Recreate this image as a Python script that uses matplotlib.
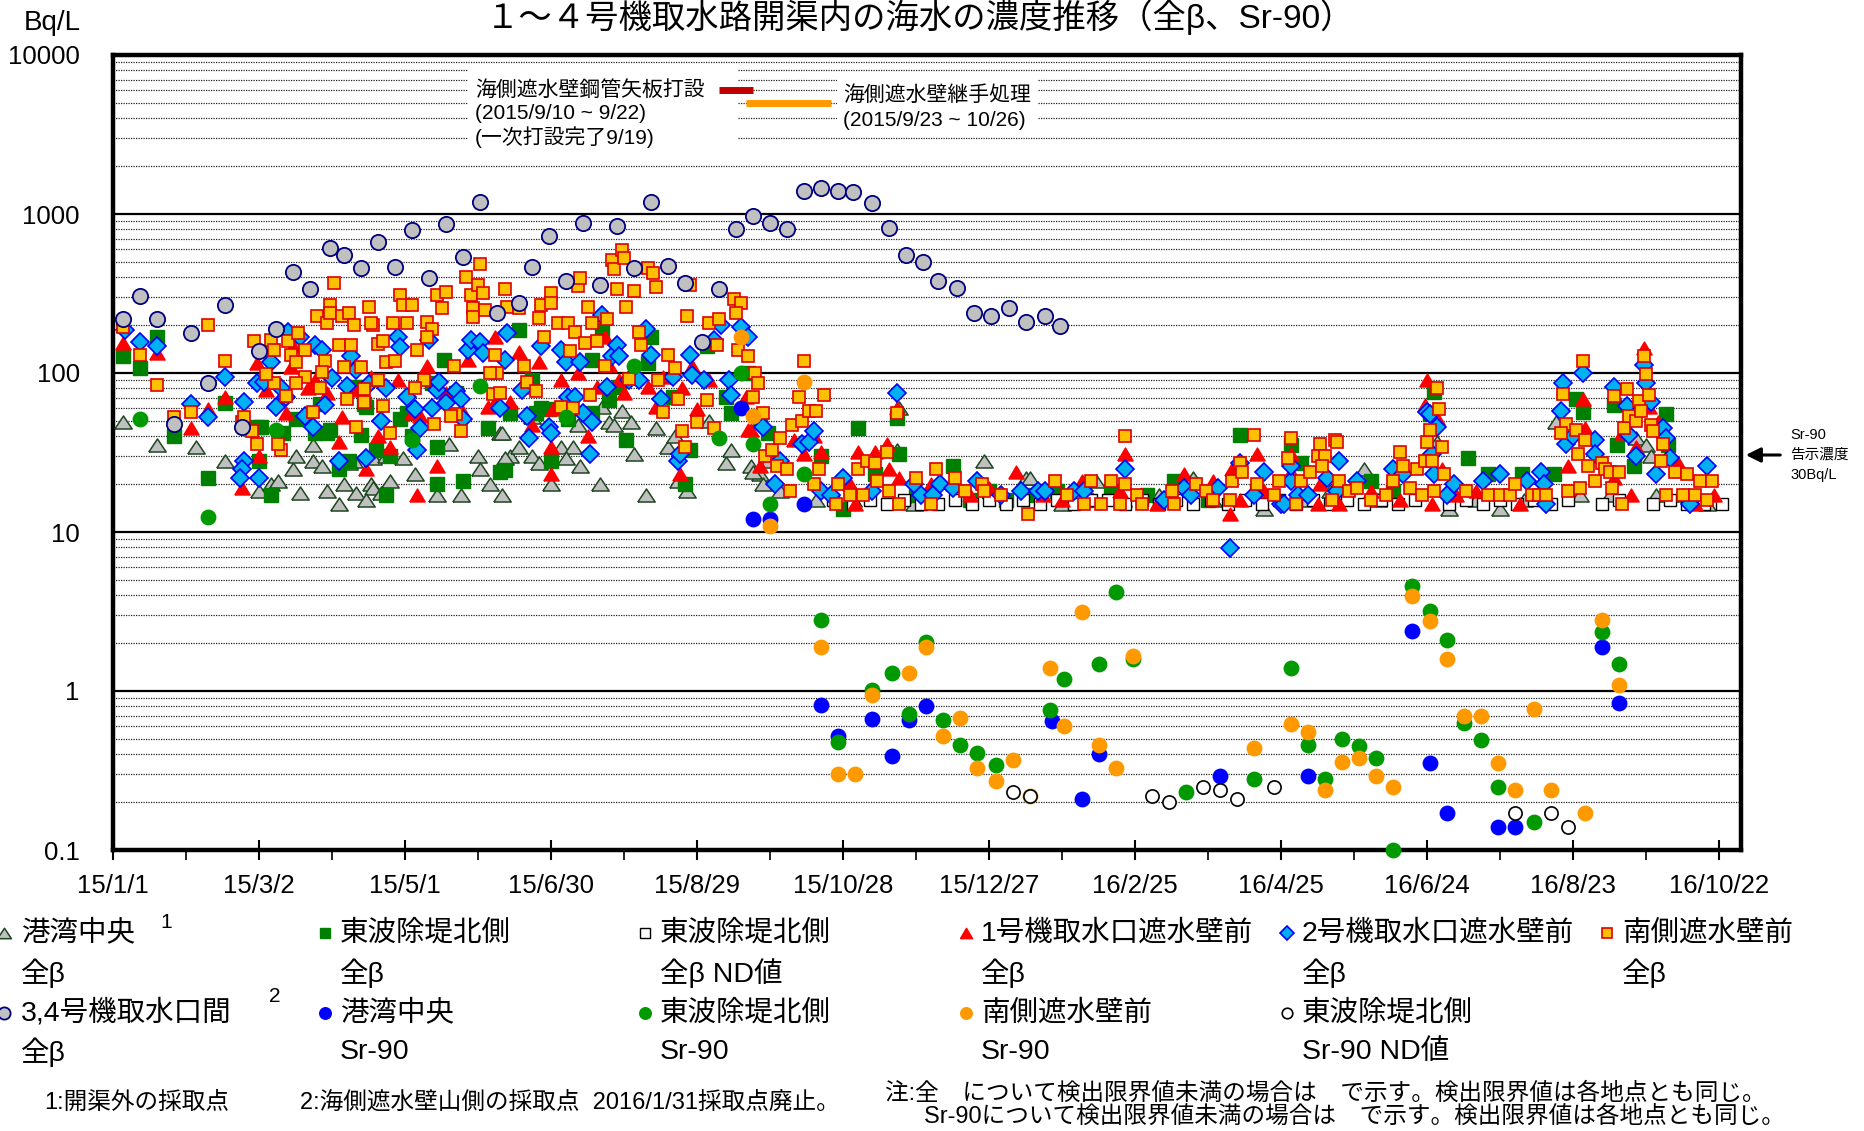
import numpy as np
import matplotlib
matplotlib.use('Agg')
import matplotlib.pyplot as plt
from matplotlib.patches import Rectangle
from matplotlib.ticker import FixedLocator, NullFormatter, LogLocator

plt.rcParams['font.family'] = ['Liberation Sans', 'Noto Sans CJK JP']

# values are (days since 2015/1/1, Bq/L)
kowan_beta = [(4, 49), (18, 35), (34, 34), (46, 28), (60, 18), (65, 20), (68, 21), (74, 25), (75, 30), (82, 28),
              (88, 18), (93, 15), (95, 20), (99, 28), (106, 20), (114, 21), (124, 23), (133, 17), (143, 17), (150, 30),
              (151, 25), (155, 20), (159, 42), (160, 17), (163, 30), (167, 34), (172, 30), (175, 27), (180, 20), (184, 34),
              (189, 34), (192, 26), (200, 20), (204, 49), (209, 58), (213, 49), (214, 31), (219, 17), (223, 45), (228, 34),
              (231, 40), (236, 18), (245, 50), (252, 27), (254, 33), (262, 26), (266, 23), (267, 20), (274, 18), (289, 16),
              (82, 35), (86, 26), (100, 17.5), (107, 19), (110, 17.5), (138, 36), (77, 17.5), (97, 27), (119, 29), (107, 29),
              (112, 30), (104, 16), (161, 29), (186, 29), (206, 47), (232, 21), (263, 24), (269, 28), (160, 42), (172, 53),
              (191, 47), (201, 61),
              (304, 16), (322, 33), (323, 60), (329, 15), (358, 28), (375, 22), (377, 22), (390, 15), (404, 21), (415, 16),
              (430, 17), (444, 22), (452, 16), (473, 14), (490, 16), (500, 18), (514, 25), (520, 16), (544, 37), (549, 14),
              (560, 16), (570, 14), (580, 16), (593, 49), (603, 17), (615, 17), (626, 39), (630, 35), (632, 30), (634, 17),
              (645, 17), (655, 15)]

higashi_beta = [(4, 127), (11, 107), (18, 169), (25, 40), (39, 22), (46, 65), (59, 46), (61, 46), (65, 17), (70, 42),
                (75, 51), (83, 42), (88, 42), (93, 25), (97, 28), (100, 82), (104, 61), (112, 17), (114, 30), (118, 51),
                (121, 56), (123, 40), (131, 86), (136, 121), (133, 20), (141, 75), (144, 21), (147, 147), (154, 45), (159, 24),
                (167, 186), (172, 90), (174, 56), (179, 59), (180, 28), (187, 51), (197, 56), (197, 121), (201, 186), (208, 82),
                (211, 38), (220, 115), (221, 169), (230, 71), (235, 20), (237, 33), (244, 147), (252, 71), (254, 56), (261, 100),
                (60, 28), (89, 44), (102, 41), (108, 33), (133, 34), (85, 64), (103, 64), (161, 24.5), (163, 56), (204, 68),
                (176, 60),
                (266, 51), (269, 42), (291, 30), (300, 14), (306, 45), (313, 23), (322, 52), (323, 31), (330, 17), (345, 26),
                (352, 16), (360, 18), (367, 16), (375, 17), (388, 18), (400, 16), (410, 18), (425, 17), (436, 21), (450, 16),
                (463, 41), (470, 18), (484, 35), (488, 27), (517, 21), (526, 18), (541, 55), (543, 76), (557, 29), (565, 23),
                (579, 23), (592, 23), (601, 69), (604, 57), (617, 63), (618, 35), (625, 26), (638, 55), (639, 35)]

higashi_beta_nd = [(296, 16), (304, 15), (311, 16), (318, 15), (325, 16), (332, 15), (339, 15), (346, 16), (353, 15),
                   (360, 16), (367, 15), (374, 16), (381, 15), (388, 16), (395, 15), (402, 16), (409, 16), (416, 15),
                   (423, 16), (430, 15), (437, 16), (444, 15), (451, 16), (458, 15), (465, 16), (472, 15), (479, 16),
                   (486, 15), (493, 16), (500, 15), (507, 16), (514, 15), (521, 16), (528, 15), (535, 16), (549, 15),
                   (556, 16), (563, 15), (570, 16), (577, 15), (584, 16), (591, 15), (598, 16), (612, 15), (619, 16),
                   (633, 15), (640, 16), (647, 15), (654, 15), (661, 15)]

unit1_beta = [(4, 154), (18, 134), (32, 45), (39, 59), (46, 71), (53, 19), (60, 30), (59, 116), (63, 78), (65, 90),
              (71, 56), (73, 109), (74, 147), (80, 80), (83, 90), (88, 75), (94, 53), (93, 37), (99, 78), (104, 25),
              (106, 95), (109, 40), (114, 34), (117, 90), (123, 56), (125, 17), (126, 54), (129, 110), (133, 26), (137, 75),
              (143, 59), (146, 121), (157, 169), (154, 61), (157, 66), (163, 66), (167, 136), (169, 82), (172, 47), (175, 118),
              (180, 23), (180, 34), (181, 59), (184, 90), (191, 100), (195, 40), (199, 82), (202, 169), (204, 112), (208, 90),
              (210, 75), (215, 95), (220, 82), (223, 61), (226, 95), (233, 23), (234, 80), (238, 110), (240, 59), (245, 90),
              (260, 71), (261, 44), (262, 44), (266, 26), (271, 31), (280, 38), (284, 31), (291, 32), (288, 40), (303, 20),
              (305, 15), (306, 32), (313, 32), (319, 25), (323, 22), (318, 36), (322, 60), (336, 20), (345, 20), (352, 17),
              (360, 19), (371, 24), (382, 17), (390, 16), (398, 21), (416, 31), (414, 18), (429, 15), (440, 23), (452, 21),
              (459, 13), (460, 25), (463, 16), (470, 31), (473, 18), (484, 24), (484, 31), (495, 15), (496, 20), (504, 15),
              (517, 18), (529, 16), (539, 63), (540, 90), (544, 52), (542, 15), (546, 25), (552, 17), (560, 18), (578, 15),
              (598, 26), (604, 69), (605, 45), (617, 22), (620, 42), (624, 17), (626, 34), (629, 143), (631, 61), (635, 49),
              (643, 27), (650, 15), (658, 17)]

unit2_beta = [(5, 186), (11, 157), (18, 148), (32, 64), (39, 53), (46, 95), (54, 66), (54, 28), (53, 25), (52, 22),
              (60, 22), (59, 87), (62, 88), (65, 118), (67, 61), (71, 71), (69, 80), (72, 182), (77, 169), (79, 54),
              (82, 46), (83, 149), (87, 63), (86, 140), (90, 93), (93, 28), (96, 83), (98, 128), (100, 104), (104, 29),
              (105, 85), (110, 50), (112, 80), (117, 169), (118, 146), (121, 71), (124, 59), (126, 45), (130, 161), (131, 60),
              (133, 78), (134, 88), (137, 65), (141, 77), (143, 69), (144, 51), (146, 140), (147, 161), (151, 157), (152, 133),
              (159, 60), (161, 121), (162, 178), (168, 78), (170, 54), (171, 39), (176, 148), (179, 46), (180, 42), (184, 140),
              (186, 118), (187, 71), (190, 71), (192, 118), (193, 56), (196, 31), (197, 49), (201, 232), (203, 82), (205, 127),
              (207, 149), (208, 127), (212, 90), (216, 91), (219, 189), (221, 130), (225, 69), (230, 95), (232, 28), (233, 31),
              (237, 129), (238, 97), (243, 91), (247, 161), (250, 200), (253, 90), (254, 73), (258, 196), (261, 169), (267, 46),
              (125, 33),
              (272, 20), (274, 28), (283, 36), (286, 37), (288, 43), (291, 18), (295, 17), (300, 22), (312, 18), (322, 75),
              (329, 20), (332, 17), (337, 17), (340, 20), (345, 19), (355, 21), (365, 17), (373, 18), (380, 18), (383, 18),
              (395, 18), (399, 18), (416, 25), (432, 16), (440, 19), (443, 17), (454, 19), (459, 7.9), (463, 27), (469, 17),
              (473, 24), (480, 15), (484, 21), (487, 17), (484, 26), (481, 15), (491, 17), (499, 22), (504, 28), (503, 18),
              (511, 21), (526, 25), (530, 23), (540, 57), (541, 55), (544, 46), (542, 31), (543, 23), (548, 17), (551, 20),
              (563, 21), (570, 23), (581, 21), (587, 24), (588, 20), (589, 15), (596, 87), (604, 100), (595, 58), (597, 36),
              (600, 40), (609, 38), (609, 31), (617, 82), (622, 62), (623, 41), (626, 30), (629, 113), (630, 86), (632, 66),
              (637, 45), (638, 39), (640, 29), (634, 23), (648, 15), (655, 26)]

south_beta = [(4, 196), (11, 130), (18, 84), (25, 53), (32, 57), (39, 199), (46, 119), (53, 49), (54, 53), (57, 43),
              (59, 36), (69, 33), (68, 36), (58, 160), (65, 161), (66, 140), (72, 160), (76, 178), (73, 130), (75, 118),
              (79, 140), (82, 57), (84, 228), (88, 207), (89, 268), (91, 366), (89, 240), (94, 228), (97, 240), (99, 199),
              (93, 149), (98, 149), (87, 119), (95, 109), (102, 109), (103, 79), (105, 259), (107, 199), (106, 207), (109, 152),
              (111, 158), (112, 118), (116, 119), (115, 207), (118, 310), (119, 268), (121, 207), (123, 268), (125, 140), (129, 210),
              (131, 188), (129, 169), (133, 310), (135, 258), (137, 325), (140, 110), (145, 403), (147, 310), (148, 258), (148, 226),
              (151, 487), (150, 358), (152, 320), (153, 249), (161, 339), (162, 260), (157, 130), (158, 100), (156, 74), (167, 258),
              (175, 221), (176, 268), (177, 169), (180, 317), (180, 274), (183, 207), (187, 207), (188, 138), (190, 181), (191, 352),
              (192, 398), (194, 155), (195, 260), (197, 205), (199, 158), (203, 219), (205, 514), (206, 449), (209, 594), (210, 526),
              (207, 338), (214, 329), (211, 259), (216, 180), (217, 151), (220, 456), (222, 428), (223, 346), (228, 130), (231, 107),
              (236, 228), (237, 356), (245, 207), (249, 219), (248, 149), (255, 291), (258, 274), (256, 238), (257, 140), (247, 45),
              (235, 34), (234, 43), (240, 49), (244, 68), (232, 69), (226, 57), (224, 90), (212, 92), (202, 111), (196, 73),
              (184, 61), (189, 60), (170, 88), (169, 110), (174, 77), (159, 75), (155, 100), (143, 43), (141, 55), (139, 54),
              (132, 48), (128, 90), (124, 80), (114, 42), (111, 62), (109, 90), (103, 66), (100, 46), (96, 69), (86, 101),
              (85, 80), (79, 94), (75, 87), (71, 72), (66, 87), (63, 98),
              (261, 128), (264, 100), (265, 87), (263, 71), (267, 56), (268, 30), (271, 33), (274, 39), (273, 26), (277, 25),
              (278, 18), (279, 47), (283, 50), (282, 71), (284, 119), (292, 73), (286, 58), (289, 58), (290, 25), (288, 20),
              (298, 20), (297, 15), (303, 17), (308, 17), (306, 25), (310, 28), (313, 27), (314, 21), (318, 32), (319, 18),
              (322, 56), (323, 15), (330, 22), (336, 15), (338, 25),
              (346, 22), (350, 18), (357, 20), (358, 18), (365, 17), (376, 13), (387, 21), (392, 17), (399, 15), (402, 21),
              (406, 15), (410, 21), (414, 15), (416, 40), (416, 20), (421, 17), (423, 15), (435, 18), (436, 15), (445, 20),
              (449, 18), (452, 16), (459, 16), (460, 21), (463, 27), (464, 24), (469, 41), (470, 20), (477, 17), (479, 21),
              (483, 29), (484, 39), (486, 15), (488, 21),
              (492, 24), (496, 36), (495, 30), (498, 30), (497, 26), (501, 16), (502, 38), (503, 37), (504, 21), (508, 18),
              (511, 19), (517, 16), (523, 17), (526, 21), (529, 32), (530, 26), (533, 19), (536, 25), (538, 17), (539, 28),
              (540, 37), (541, 44), (542, 28), (543, 18), (544, 81), (545, 59), (546, 34), (547, 23), (556, 18), (565, 17),
              (570, 17), (574, 17), (576, 20), (583, 17), (586, 17), (589, 17), (598, 18), (603, 19), (596, 74), (597, 48),
              (595, 42), (601, 44), (602, 31), (605, 38), (604, 119), (606, 26), (609, 21), (612, 27), (613, 25), (615, 24),
              (616, 19), (617, 72), (619, 24), (620, 15), (622, 79), (621, 45), (623, 54), (626, 50), (627, 67), (628, 58),
              (629, 128), (630, 98), (631, 73), (632, 47), (633, 43), (636, 28), (637, 36), (638, 17), (642, 24), (645, 17),
              (647, 23), (650, 17), (652, 21), (655, 16), (657, 21)]

unit34_beta = [(4, 218), (11, 306), (18, 218), (25, 48), (32, 178), (39, 87), (46, 267), (53, 46), (60, 138), (67, 188),
               (74, 434), (81, 336), (89, 611), (95, 552), (102, 455), (109, 670), (116, 464), (123, 796), (130, 396), (137, 869),
               (144, 534), (151, 1184), (158, 237), (167, 277), (172, 464), (179, 731), (186, 377), (193, 877), (200, 356), (207, 836),
               (214, 455), (221, 1184), (228, 473), (235, 367), (242, 157), (249, 336), (256, 809), (263, 970), (270, 877), (277, 805),
               (284, 1391), (291, 1462), (298, 1391), (304, 1368), (312, 1172), (319, 817), (326, 555), (333, 497), (339, 377), (347, 344),
               (354, 237), (361, 227), (368, 258), (375, 208), (383, 227), (389, 198)]

kowan_sr = [(258, 60), (263, 12), (270, 12), (284, 15), (291, 0.82), (298, 0.52), (312, 0.67), (320, 0.39), (327, 0.66),
            (334, 0.80), (386, 0.65), (398, 0.21), (405, 0.40), (455, 0.29), (491, 0.29), (534, 2.4), (541, 0.35),
            (548, 0.17), (569, 0.14), (576, 0.14), (612, 1.9), (619, 0.84)]

higashi_sr = [(11, 51), (39, 12.5), (67, 44), (123, 38), (151, 83), (186, 53), (214, 110), (249, 39), (258, 100), (263, 36),
              (270, 15), (284, 23), (291, 2.8), (298, 0.48), (312, 1.01), (320, 1.29), (327, 0.72), (334, 2.04), (341, 0.66),
              (348, 0.46), (355, 0.41), (363, 0.34), (385, 0.76), (391, 1.19), (405, 1.48), (412, 4.17), (419, 1.58),
              (441, 0.23), (469, 0.28), (484, 1.39), (491, 0.46), (498, 0.28), (505, 0.50), (512, 0.45), (519, 0.38),
              (526, 0.10), (534, 4.58), (541, 3.2), (548, 2.09), (555, 0.63), (562, 0.49), (569, 0.25), (584, 0.15),
              (612, 2.36), (619, 1.48)]

south_sr = [(258, 168), (263, 54), (270, 10.9), (284, 88), (291, 1.88), (298, 0.30), (305, 0.30), (312, 0.95), (327, 1.29),
            (334, 1.88), (341, 0.52), (348, 0.68), (355, 0.33), (363, 0.27), (370, 0.37), (377, 0.22), (385, 1.39),
            (391, 0.60), (398, 3.15), (405, 0.46), (412, 0.33), (419, 1.67), (469, 0.44), (484, 0.62), (491, 0.55),
            (498, 0.24), (505, 0.36), (512, 0.38), (519, 0.29), (526, 0.25), (534, 3.96), (541, 2.77), (548, 1.58),
            (555, 0.70), (562, 0.70), (569, 0.35), (576, 0.24), (584, 0.77), (591, 0.24), (605, 0.17), (612, 2.8), (619, 1.09)]

higashi_sr_nd = [(370, 0.23), (377, 0.22), (427, 0.22), (434, 0.20), (448, 0.25), (455, 0.24), (462, 0.21), (477, 0.25),
                 (576, 0.17), (591, 0.17), (598, 0.14)]

tick_dates = ['2015-01-01', '2015-03-02', '2015-05-01', '2015-06-30', '2015-08-29', '2015-10-28',
              '2015-12-27', '2016-02-25', '2016-04-25', '2016-06-24', '2016-08-23', '2016-10-22']
tick_labels = ['15/1/1', '15/3/2', '15/5/1', '15/6/30', '15/8/29', '15/10/28',
               '15/12/27', '16/2/25', '16/4/25', '16/6/24', '16/8/23', '16/10/22']
ytick_vals = [0.1, 1, 10, 100, 1000, 10000]
ytick_labels = ['0.1', '1', '10', '100', '1000', '10000']

# bars as they sit in the picture
pile_period = ['2015-09-07', '2015-09-21']
joint_period = ['2015-09-18', '2015-10-23']

BASE = np.datetime64('2015-01-01')
XMAX = BASE + np.timedelta64(669, 'D')

# flatter triangles, like the spreadsheet markers
tri_grey = [(-1, -0.75), (1, -0.75), (0, 0.75), (-1, -0.75)]
tri_red = [(-1, -0.85), (1, -0.85), (0, 0.85), (-1, -0.85)]


def unpack(pairs):
    d = np.array([p[0] for p in pairs]).astype('timedelta64[D]') + BASE
    v = np.array([p[1] for p in pairs], dtype=float)
    return d, v


# name, data, marker, size, face, edge, edge width, legend label
series = [
    ('港湾中央', kowan_beta, tri_grey, 12.5, '#C0C0C0', '#1E4620', 1.1, ['港湾中央', '全β']),
    ('東波除堤北側', higashi_beta, 's', 9.8, '#008000', '#008000', 1.0, ['東波除堤北側', '全β']),
    ('東波除堤北側ND', higashi_beta_nd, 's', 9.3, 'white', 'black', 1.0, ['東波除堤北側', '全β ND値']),
    ('1号機', unit1_beta, tri_red, 11, '#FF0000', '#FF0000', 1.0, ['1号機取水口遮水壁前', '全β']),
    ('2号機', unit2_beta, 'D', 9.3, '#00B0F0', '#0000FF', 1.2, ['2号機取水口遮水壁前', '全β']),
    ('南側', south_beta, 's', 8.6, '#FFC000', '#E00000', 1.2, ['南側遮水壁前', '全β']),
    ('3,4号機', unit34_beta, 'o', 11, '#C0C0C0', '#000080', 1.3, ['3,4号機取水口間', '全β']),
    ('港湾中央Sr', kowan_sr, 'o', 10.4, '#0000FF', '#0000FF', 1.0, ['港湾中央', 'Sr-90']),
    ('東波Sr', higashi_sr, 'o', 10.4, '#009900', '#009900', 1.0, ['東波除堤北側', 'Sr-90']),
    ('南側Sr', south_sr, 'o', 10.4, '#FF9900', '#FF9900', 1.0, ['南側遮水壁前', 'Sr-90']),
    ('東波SrND', higashi_sr_nd, 'o', 9.5, 'white', 'black', 1.2, ['東波除堤北側', 'Sr-90 ND値']),
]

W, H = 1865, 1131
fig = plt.figure(figsize=(W / 100, H / 100), dpi=100)
ax = fig.add_axes([113 / W, 1 - 850 / H, (1741 - 113) / W, (850 - 55) / H])

for name, pairs, mk, ms, fc, ec, mew, lab in series:
    d, v = unpack(pairs)
    ax.plot(d, v, ls='none', marker=mk, ms=ms, mfc=fc, mec=ec, mew=mew, clip_on=False, zorder=3)

ax.set_yscale('log')

ax.yaxis.set_major_locator(FixedLocator(ytick_vals))
ax.set_yticklabels(ytick_labels)
ax.yaxis.set_minor_locator(LogLocator(base=10, subs=np.arange(2, 10)))
ax.yaxis.set_minor_formatter(NullFormatter())
ax.tick_params(axis='y', which='both', length=0, labelsize=18.5, pad=24)

major = np.array(tick_dates, dtype='datetime64[D]')
minor = major + np.timedelta64(30, 'D')
ax.set_xticks(major)
ax.set_xticklabels(tick_labels)
ax.set_xticks(minor[minor < XMAX], minor=True)
ax.tick_params(axis='x', which='major', direction='inout', length=14, width=1.5, labelsize=18.5, pad=10)
ax.tick_params(axis='x', which='minor', direction='out', length=7, width=1.2)

ax.set_axisbelow(True)
ax.grid(True, which='major', axis='y', color='black', lw=1.6, ls='-')
ax.grid(True, which='minor', axis='y', color='#222222', lw=0.9, ls=(0, (1, 1)))
for sp in ax.spines.values():
    sp.set_linewidth(3.2)

# construction period notes
ax.add_patch(Rectangle((0.218, 0.880), 0.166, 0.106, transform=ax.transAxes,
                       facecolor='white', edgecolor='none', zorder=1.5))
ax.add_patch(Rectangle((0.445, 0.906), 0.123, 0.068, transform=ax.transAxes,
                       facecolor='white', edgecolor='none', zorder=1.5))
note_kw = dict(transform=ax.transAxes, fontsize=15, va='center', ha='left', zorder=4)
ax.text(0.2224, 0.956, '海側遮水壁鋼管矢板打設', **note_kw)
ax.text(0.2224, 0.927, '(2015/9/10 ~ 9/22)', **note_kw)
ax.text(0.2224, 0.897, '(一次打設完了9/19)', **note_kw)
ax.text(0.4484, 0.950, '海側遮水壁継手処理', **note_kw)
ax.text(0.4484, 0.918, '(2015/9/23 ~ 10/26)', **note_kw)
ax.plot(np.array(pile_period, dtype='datetime64[D]'), [6000, 6000], color='#C00000', lw=5,
        solid_capstyle='butt', zorder=4)
ax.plot(np.array(joint_period, dtype='datetime64[D]'), [5000, 5000], color='#FF9900', lw=5,
        solid_capstyle='butt', zorder=4)

ax.set_ylim(0.1, 10000)
ax.set_xlim(BASE, XMAX)

# overlay in pixel coordinates for texts outside the plot
lay = fig.add_axes([0, 0, 1, 1])
lay.set_xlim(0, W)
lay.set_ylim(H, 0)
lay.axis('off')
lay.patch.set_visible(False)

lay.text(920, 17, '１～４号機取水路開渠内の海水の濃度推移（全β、Sr-90）', ha='center', va='center', fontsize=24)
lay.text(52, 23, 'Bq/L', ha='center', va='center', fontsize=20)

lay.annotate('', xy=(1743, 455), xytext=(1783, 455),
             arrowprops=dict(arrowstyle='-|>', color='black', lw=2.2, mutation_scale=22))
lay.text(1790, 435, 'Sr-90', fontsize=10.5, va='center')
lay.text(1790, 455, '告示濃度', fontsize=10.5, va='center')
lay.text(1790, 475, '30Bq/L', fontsize=10.5, va='center')

# legend
col_x = [4, 325, 645, 966, 1287, 1607]
row_y = [(933, 973), (1013, 1052)]
for i, (name, pairs, mk, ms, fc, ec, mew, lab) in enumerate(series):
    r, c = divmod(i, 6)
    y1, y2 = row_y[r]
    lay.plot([col_x[c]], [y1], ls='none', marker=mk, ms=ms * 0.8, mfc=fc, mec=ec, mew=mew, clip_on=False)
    tx = col_x[c] + 15 if c else 21
    lay.text(tx, y1, lab[0], fontsize=20.5, va='center', ha='left')
    lay.text(tx, y2, lab[1], fontsize=20.5, va='center', ha='left')
lay.text(160, 922, '1', fontsize=15, va='center', ha='left')
lay.text(269, 997, '2', fontsize=15, va='center', ha='left')

lay.text(44, 1103, '1:開渠外の採取点', fontsize=17, va='center')
lay.text(300, 1103, '2:海側遮水壁山側の採取点  2016/1/31採取点廃止。', fontsize=17, va='center')
lay.text(885, 1094, '注:全　について検出限界値未満の場合は　で示す。検出限界値は各地点とも同じ。', fontsize=17, va='center')
lay.text(924, 1117, 'Sr-90について検出限界値未満の場合は　で示す。検出限界値は各地点とも同じ。', fontsize=17, va='center')

fig.savefig('out.png', dpi=100)
